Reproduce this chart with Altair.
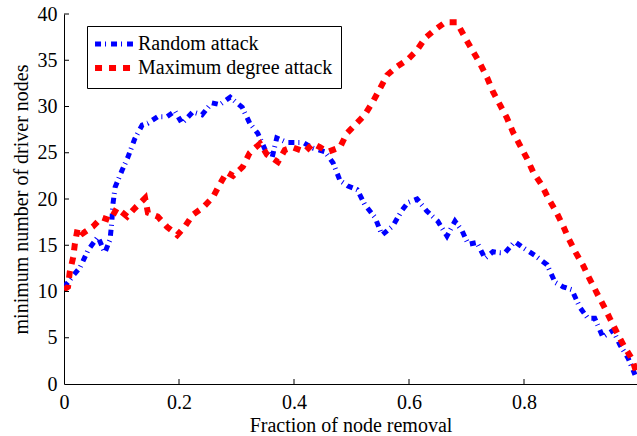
import altair as alt
import pandas as pd

series_names = ["Random attack", "Maximum degree attack"]

random_x = [0.000, 0.007, 0.017, 0.028, 0.042, 0.059, 0.071, 0.080, 0.083, 0.085,
            0.089, 0.101, 0.111, 0.123, 0.136, 0.146, 0.163, 0.179, 0.193, 0.205,
            0.224, 0.240, 0.257, 0.271, 0.289, 0.310, 0.323, 0.337, 0.350, 0.362,
            0.370, 0.388, 0.416, 0.433, 0.454, 0.468, 0.480, 0.494, 0.510, 0.523,
            0.541, 0.553, 0.572, 0.588, 0.598, 0.614, 0.631, 0.650, 0.666, 0.680,
            0.692, 0.703, 0.718, 0.732, 0.746, 0.758, 0.767, 0.784, 0.797, 0.819,
            0.840, 0.854, 0.868, 0.883, 0.897, 0.911, 0.923, 0.937, 0.955, 0.967,
            0.981, 0.993]
random_y = [10.5, 11.0, 11.8, 12.6, 14.5, 15.9, 14.2, 15.6, 17.4, 19.4,
            21.3, 23.1, 24.5, 26.5, 28.0, 28.2, 28.9, 28.9, 29.5, 28.2,
            29.4, 29.1, 30.4, 30.2, 31.0, 29.9, 28.2, 27.1, 25.3, 24.5,
            26.6, 26.1, 26.1, 25.5, 25.1, 23.9, 22.0, 21.4, 21.0, 19.4,
            18.0, 16.1, 17.1, 18.8, 19.6, 20.0, 18.7, 17.6, 16.0, 17.6,
            16.6, 15.1, 15.3, 13.6, 14.3, 14.2, 14.2, 15.4, 14.8, 13.9,
            12.9, 11.0, 10.5, 10.2, 8.3, 7.1, 7.1, 5.1, 5.8, 4.2,
            2.8, 1.0]

maxdeg_x = [0.000, 0.007, 0.010, 0.016, 0.019, 0.024, 0.033, 0.050, 0.066, 0.080,
            0.092, 0.110, 0.123, 0.141, 0.146, 0.163, 0.179, 0.197, 0.210, 0.224,
            0.242, 0.259, 0.271, 0.283, 0.294, 0.311, 0.323, 0.341, 0.353, 0.372,
            0.384, 0.397, 0.419, 0.433, 0.445, 0.459, 0.480, 0.492, 0.506, 0.523,
            0.537, 0.550, 0.562, 0.579, 0.598, 0.614, 0.628, 0.645, 0.663, 0.683,
            0.697, 0.710, 0.723, 0.736, 0.746, 0.758, 0.770, 0.781, 0.793, 0.805,
            0.816, 0.831, 0.842, 0.856, 0.868, 0.877, 0.890, 0.903, 0.913, 0.927,
            0.939, 0.950, 0.962, 0.974, 0.988, 0.995]
maxdeg_y = [10.2, 10.5, 12.1, 13.7, 15.2, 16.9, 16.3, 17.0, 18.0, 17.7,
            19.0, 18.1, 19.0, 20.1, 18.5, 18.1, 17.0, 16.1, 17.0, 18.3,
            19.1, 20.2, 21.6, 22.9, 22.5, 23.5, 25.0, 26.0, 24.8, 24.0,
            25.3, 25.6, 25.1, 26.0, 25.6, 25.1, 25.6, 27.1, 28.0, 29.1,
            30.5, 32.0, 33.4, 34.3, 35.1, 36.1, 37.4, 38.3, 39.1, 39.1,
            37.5, 36.1, 34.7, 33.1, 31.6, 30.2, 28.8, 27.2, 25.8, 24.4,
            22.9, 21.5, 20.1, 18.6, 17.1, 15.8, 14.2, 12.8, 11.5, 9.8,
            8.4, 7.0, 5.5, 4.1, 2.7, 1.3]

x_ticks = [0, 0.2, 0.4, 0.6, 0.8]
y_ticks = [0, 5, 10, 15, 20, 25, 30, 35, 40]

df = pd.concat([
    pd.DataFrame({"frac": random_x, "nd": random_y, "series": series_names[0], "ord": range(len(random_x))}),
    pd.DataFrame({"frac": maxdeg_x, "nd": maxdeg_y, "series": series_names[1], "ord": range(len(maxdeg_x))}),
], ignore_index=True)

FONT = "Liberation Serif"
FS = 20
x_dom = [0, 0.9965]

x_scale = alt.Scale(domain=x_dom, nice=False, zero=False)
y_scale = alt.Scale(domain=[0, 40], nice=False)

lines = alt.Chart(df).mark_line(clip=True, strokeCap="butt", strokeJoin="miter").encode(
    x=alt.X("frac:Q", scale=x_scale,
            axis=alt.Axis(values=x_ticks, title="Fraction of node removal",
                          labelExpr="datum.value == 0 ? '0' : format(datum.value, '.1f')",
                          ticks=False, tickSize=0, grid=False, labelPadding=8,
                          titlePadding=3)),
    y=alt.Y("nd:Q", scale=y_scale,
            axis=alt.Axis(values=y_ticks, title="minimum number of driver nodes",
                          format="d", ticks=False, tickSize=0, grid=False,
                          labelPadding=7, titlePadding=6)),
    color=alt.Color("series:N",
                    scale=alt.Scale(domain=series_names, range=["#0000ff", "#ff0000"]),
                    legend=alt.Legend(title=None, orient="none", legendX=23, legendY=12,
                                      symbolType="M-3,0H3", symbolSize=160,
                                      symbolStrokeWidth=5, symbolOffset=9,
                                      labelFont=FONT, labelFontSize=FS, labelColor="black",
                                      labelLimit=400,
                                      fillColor="white", strokeColor="black",
                                      padding=8, rowPadding=2, labelOffset=14)),
    strokeDash=alt.StrokeDash("series:N",
                              scale=alt.Scale(domain=series_names, range=[[6, 4, 1, 5], [7, 7]]),
                              legend=None),
    strokeWidth=alt.StrokeWidth("series:N",
                                scale=alt.Scale(domain=series_names, range=[5, 6]),
                                legend=None),
    order="ord:Q",
)

xt = alt.Chart(pd.DataFrame({"t": x_ticks[1:]})).mark_rule(color="black", strokeWidth=1).encode(
    x=alt.X("t:Q", scale=x_scale), y=alt.value(370), y2=alt.value(365))
yt = alt.Chart(pd.DataFrame({"t": y_ticks[1:]})).mark_rule(color="black", strokeWidth=1).encode(
    y=alt.Y("t:Q", scale=y_scale), x=alt.value(0), x2=alt.value(5))

chart = alt.layer(lines, xt, yt).properties(
    width=573, height=370,
    background="white",
    autosize=alt.AutoSizeParams(type="none"),
    padding={"left": 64, "top": 14, "right": 0, "bottom": 52},
).configure_view(stroke=None).configure_axis(
    labelFont=FONT, labelFontSize=FS, labelColor="black",
    titleFont=FONT, titleFontSize=FS, titleFontWeight="normal", titleColor="black",
    domainColor="black", domainWidth=1,
).configure_axisX(labelFlush=False)

chart.save("out.html", embed_options={"renderer": "svg", "actions": False})
